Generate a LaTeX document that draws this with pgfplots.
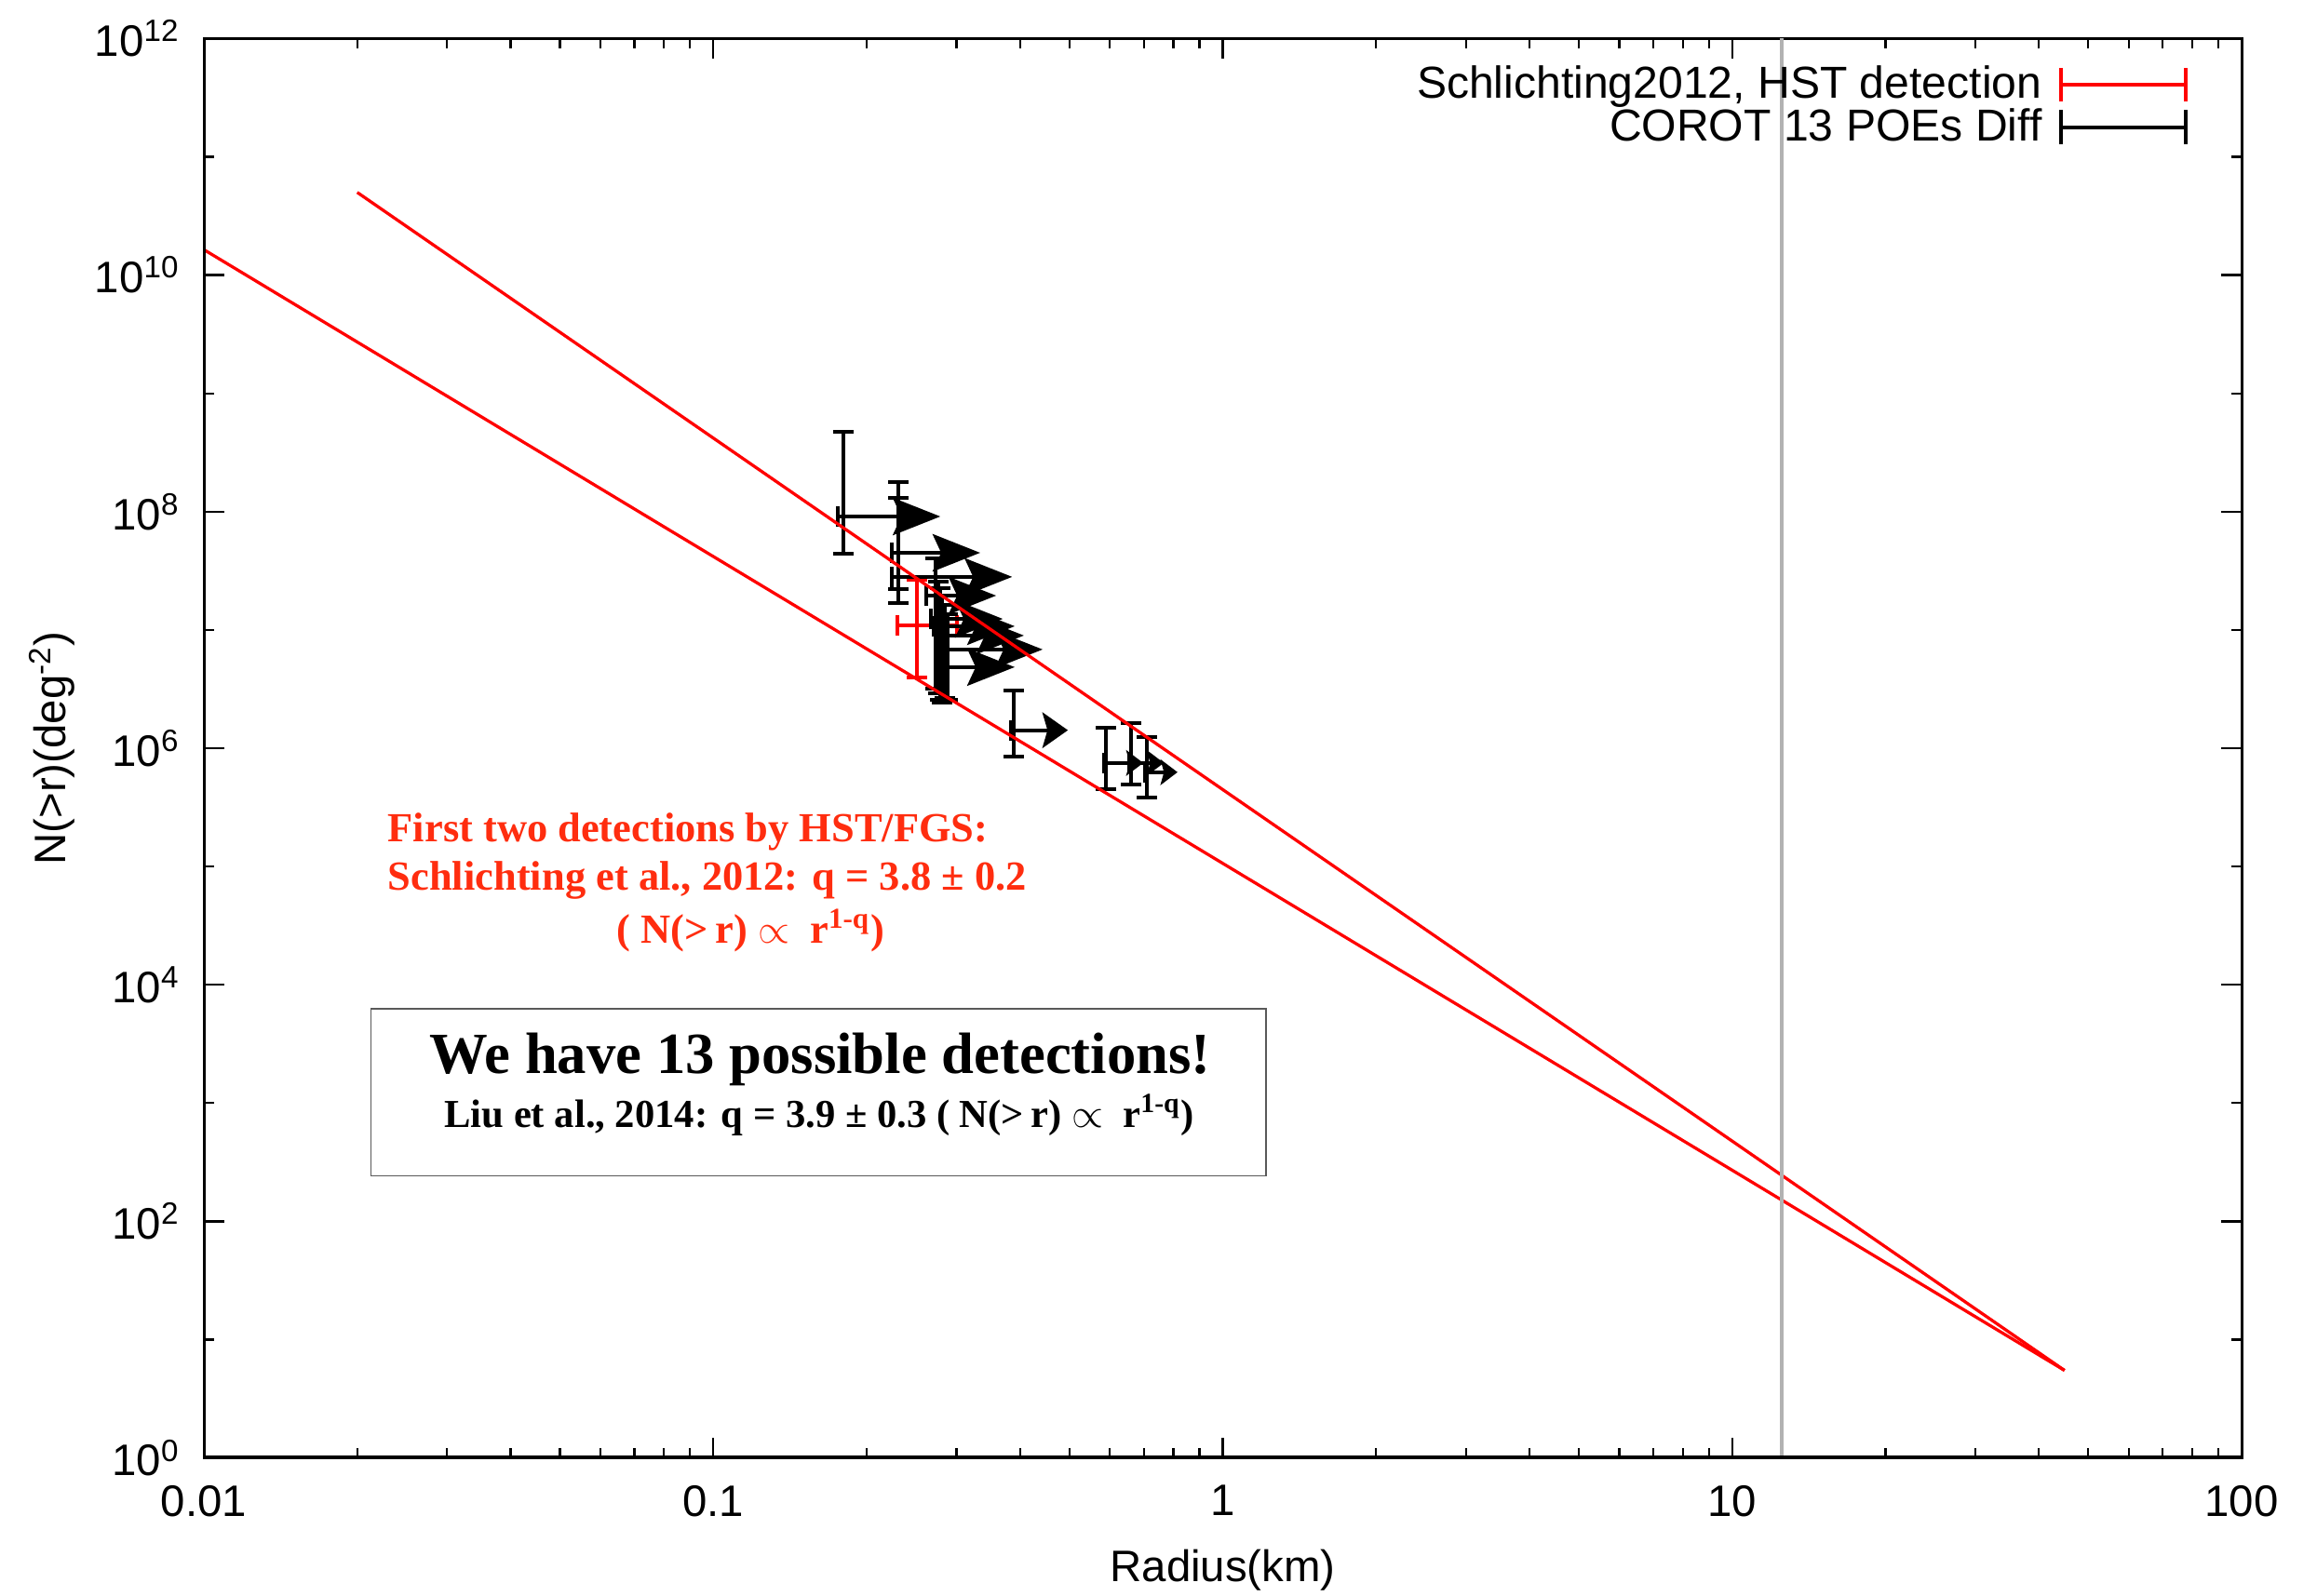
\documentclass[border=0pt]{standalone}
\usepackage{fontspec}
\setmainfont{Liberation Sans}
\newfontfamily\pal{Liberation Serif}
\usepackage{pgfplots}
\usepackage{pgfplotstable}
\pgfplotsset{compat=1.18}
\usetikzlibrary{arrows.meta}
\definecolor{txtred}{RGB}{255,45,15}

\pgfplotstableread{
x y exm eyp eym
0.180 9.10e7 0.0044 3.82e8 4.69e7
0.2308 4.49e7 0.0067 1.331e8 2.27e7
0.2308 2.81e7 0.0067 1.029e8 1.12e7
0.2731 1.95e7 0.0113 2.08e7 1.63e7
0.2766 1.24e7 0.0092 1.32e7 9.48e6
0.2788 1.075e7 0.0081 1.185e7 8.18e6
0.2812 8.97e6 0.0081 1.053e7 6.53e6
0.2849 6.84e6 0.0118 9.46e6 4.17e6
0.2884 4.85e6 0.0118 8.75e6 2.28e6
0.3889 1.42e6 0.0049 1.66e6 5.67e5
0.590 7.51e5 0.0052 7.39e5 2.98e5
0.661 7.51e5 0.0056 8.89e5 2.56e5
0.710 6.27e5 0.0065 6.23e5 2.42e5
}\corot

\pgfplotstableread{
x y exm exp eyp eym
0.251 1.09e7 0.021 0.050 1.55e7 6.95e6
}\hst

\begin{document}
\begin{tikzpicture}
\begin{axis}[
  xmode=log, ymode=log,
  scale only axis, width=600.6pt, height=418.5pt,
  xmin=0.01, xmax=100, ymin=1, ymax=1e12,
  xtick={0.01,0.1,1,10,100}, xticklabels={0.01,0.1,1,10,100},
  minor xtick={0.02,0.03,0.04,0.05,0.06,0.07,0.08,0.09,0.2,0.3,0.4,0.5,0.6,0.7,0.8,0.9,2,3,4,5,6,7,8,9,20,30,40,50,60,70,80,90},
  ytick={1,1e2,1e4,1e6,1e8,1e10,1e12},
  yticklabels={10\textsuperscript{0},10\textsuperscript{2},10\textsuperscript{4},10\textsuperscript{6},10\textsuperscript{8},10\textsuperscript{10},10\textsuperscript{12}},
  minor ytick={1e1,1e3,1e5,1e7,1e9,1e11},
  tick align=inside, major tick length=6pt, minor tick length=3pt,
  every tick/.style={black, line width=0.6pt},
  axis line style={line width=0.8pt},
  tick label style={font=\fontsize{13}{15}\selectfont},
  label style={font=\fontsize{13}{15}\selectfont},
  xticklabel shift=4.5pt, yticklabel shift=3.5pt,
  xlabel={Radius(km)}, ylabel={N(>r)(deg\textsuperscript{-2})},
  xlabel style={at={(axis description cs:0.5,-0.0788)}, anchor=center},
  ylabel style={at={(axis description cs:-0.0746,0.5)}, anchor=center},
  legend plot pos=right,
  legend cell align=right,
  legend style={draw=none, fill=none, at={(0.974,0.986)}, anchor=north east,
    font=\fontsize{13.2}{15}\selectfont, row sep=-2.5pt, column sep=3pt, inner sep=0pt},
]
% HST point
\addplot[red, line width=1.1pt, only marks, mark=*, mark size=0.01pt,
  legend image code/.code={%
    \draw[red, line width=1.1pt] (0pt,0pt) -- (37pt,0pt);
    \draw[red, line width=1.1pt] (0pt,-5pt) -- (0pt,5pt) (37pt,-5pt) -- (37pt,5pt);},
  error bars/.cd, x dir=both, x explicit, y dir=both, y explicit,
  error bar style={red, line width=1.1pt, solid},
  error mark options={red, line width=1.1pt, mark size=3pt, rotate=90},
  ] table[x=x, y=y, x error plus=exp, x error minus=exm, y error plus=eyp, y error minus=eym] {\hst};
\addlegendentry{Schlichting2012, HST detection}
% COROT points
\addplot[black, line width=1.1pt, only marks, mark=*, mark size=0.01pt,
  legend image code/.code={%
    \draw[black, line width=1.1pt] (0pt,0pt) -- (37pt,0pt);
    \draw[black, line width=1.1pt] (0pt,-5pt) -- (0pt,5pt) (37pt,-5pt) -- (37pt,5pt);},
  error bars/.cd, x dir=minus, x explicit, y dir=both, y explicit,
  error bar style={black, line width=1.1pt, solid},
  error mark options={black, line width=1.1pt, mark size=3pt, rotate=90},
  ] table[x=x, y=y, x error minus=exm, y error plus=eyp, y error minus=eym] {\corot};
\addlegendentry{COROT 13 POEs Diff}

% arrows (lower limits)
\pgfplotsset{arr/.style={black, line width=1.1pt, forget plot, -{Stealth[length=14pt,width=11pt,inset=2.5pt]}}}
\addplot[arr] coordinates {(0.180,9.10e7) (0.279,9.10e7)};
\addplot[arr] coordinates {(0.2308,4.49e7) (0.334,4.49e7)};
\addplot[arr] coordinates {(0.2308,2.81e7) (0.386,2.81e7)};
\addplot[arr] coordinates {(0.2731,1.95e7) (0.359,1.95e7)};
\addplot[arr] coordinates {(0.2766,1.24e7) (0.370,1.24e7)};
\addplot[arr] coordinates {(0.2788,1.075e7) (0.3905,1.075e7)};
\addplot[arr] coordinates {(0.2812,8.97e6) (0.407,8.97e6)};
\addplot[arr] coordinates {(0.2849,6.84e6) (0.443,6.84e6)};
\addplot[arr] coordinates {(0.2884,4.85e6) (0.3905,4.85e6)};
\addplot[black, line width=1.1pt, forget plot, -{Stealth[length=7.5pt,width=10.5pt,inset=1.5pt]}] coordinates {(0.3889,1.42e6) (0.4965,1.42e6)};
\addplot[black, line width=1.1pt, forget plot, -{Stealth[length=5pt,width=7.5pt,inset=1pt]}] coordinates {(0.590,7.51e5) (0.698,7.51e5)};
\addplot[black, line width=1.1pt, forget plot, -{Stealth[length=5pt,width=7.5pt,inset=1pt]}] coordinates {(0.661,7.51e5) (0.766,7.51e5)};
\addplot[black, line width=1.1pt, forget plot, -{Stealth[length=5pt,width=7.5pt,inset=1pt]}] coordinates {(0.710,6.27e5) (0.815,6.27e5)};

% fitted power laws
\addplot[red, line width=0.9pt, forget plot] coordinates {(0.01,1.64e10) (44.9,5.5)};
\addplot[red, line width=0.9pt, forget plot] coordinates {(0.02,5.0e10) (44.9,5.5)};
% vertical line
\addplot[black!30, line width=1.1pt, forget plot] coordinates {(12.5,1) (12.5,1e12)};

\draw[line width=1.3pt] (rel axis cs:0,1) -- (rel axis cs:0,0) -- (rel axis cs:1,0);

% annotations
\node[anchor=west, inner sep=0pt, text=txtred, font=\pal\bfseries\fontsize{12.2}{14}\selectfont] at (rel axis cs:0.0900,0.4412) {First two detections by HST/FGS:};
\node[anchor=west, inner sep=0pt, text=txtred, font=\pal\bfseries\fontsize{12.2}{14}\selectfont] at (rel axis cs:0.0900,0.4069) {Schlichting et al., 2012: q = 3.8 ± 0.2};
\node[anchor=center, text=txtred, font=\pal\bfseries\fontsize{12.2}{14}\selectfont] at (rel axis cs:0.2683,0.3716) {( N(>\,r) $\propto$\ \ r\textsuperscript{1-q})};

\draw[black!65, line width=0.5pt] (rel axis cs:0.08196,0.1988) rectangle (rel axis cs:0.5214,0.3164);
\node[font=\pal\bfseries\fontsize{17.2}{20}\selectfont] at (rel axis cs:0.3024,0.281) {We have 13 possible detections!};
\node[font=\pal\bfseries\fontsize{11.7}{14}\selectfont] at (rel axis cs:0.302,0.2415) {Liu et al., 2014: q = 3.9 ± 0.3 ( N(>\,r) $\propto$\ \ r\textsuperscript{1-q})};
\end{axis}
\pgfresetboundingbox
\path[use as bounding box] (-60.1pt,-40.6pt) rectangle (622.8pt,429.85pt);
\end{tikzpicture}
\end{document}
